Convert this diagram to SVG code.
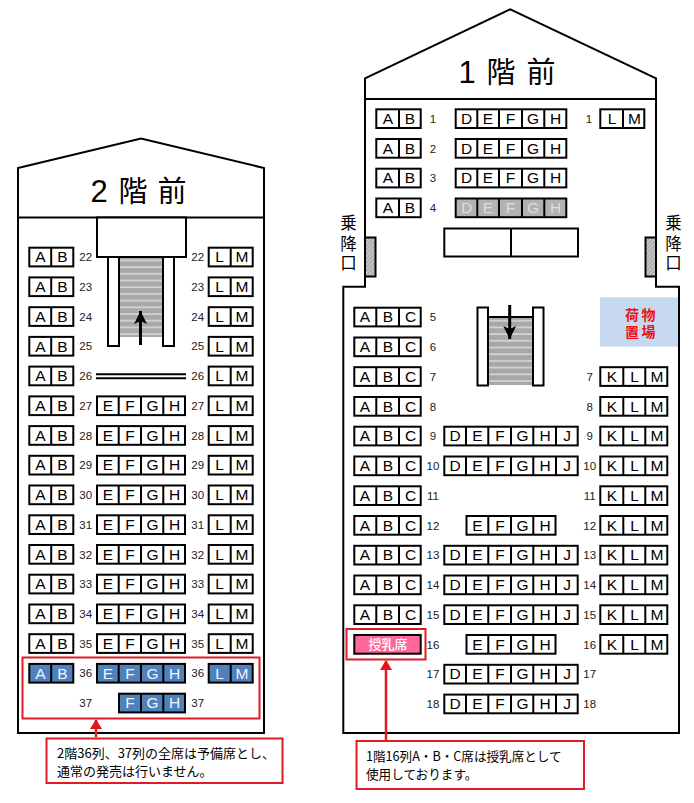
<svg xmlns="http://www.w3.org/2000/svg" width="694" height="803" viewBox="0 0 694 803">
<style>
.o{fill:none;stroke:#000;stroke-width:2}
.bw{fill:#fff;stroke:#000;stroke-width:2}
.s{stroke:#000;stroke-width:2}
.w{fill:#fff}.b{fill:#4f81bd}.g{fill:#b2b2b2}
text{font-family:"Liberation Sans","Noto Sans CJK JP",sans-serif;fill:#000}
.t,.tw{font-size:15.5px;text-anchor:middle}
.tw{fill:#f0f4fa}
.tg{fill:#ddd}
.n{font-size:11.5px;text-anchor:middle;fill:#222}
.h{font-size:29px;text-anchor:middle;font-family:"Noto Sans CJK JP","Liberation Sans",sans-serif}
.hd{font-size:31px;text-anchor:middle}
.d{font-size:16.5px;text-anchor:middle;font-family:"Noto Sans CJK JP",sans-serif}
.c{font-size:13px;font-family:"Noto Sans CJK JP",sans-serif}
.c1{font-size:12.6px;font-family:"Noto Sans CJK JP",sans-serif}
.bag{font-size:14px;font-weight:700;fill:#f01010;font-family:"Noto Sans CJK JP",sans-serif}
.nurse{font-size:13px;font-weight:500;text-anchor:middle;fill:#fff;font-family:"Noto Sans CJK JP",sans-serif}
.r{fill:none;stroke:#e01b24;stroke-width:2}
.a{stroke:#e01b24;stroke-width:2.5;fill:none}
</style>
<defs>
<pattern id="st" width="10" height="6.7" patternUnits="userSpaceOnUse"><rect width="10" height="6.7" fill="#d4d4d4"/><rect width="10" height="5" fill="#a8a8a8"/></pattern>
<pattern id="ha" width="3" height="3" patternUnits="userSpaceOnUse" patternTransform="rotate(45)"><rect width="3" height="3" fill="#c8c8c8"/><rect width="1.4" height="3" fill="#a8a8a8"/></pattern>
<marker id="ra" markerUnits="userSpaceOnUse" markerWidth="14" markerHeight="12" refX="9" refY="6" orient="auto"><path d="M0,0L10,6L0,12Z" fill="#e8141c"/></marker>
<marker id="ka" markerUnits="userSpaceOnUse" markerWidth="16" markerHeight="16" refX="13" refY="8" orient="auto"><path d="M0,1.5L13,8L0,14.5L3,8Z" fill="#000"/></marker>
<g id="ab2"><rect class="s" x="29.3" width="44" height="18.7"/><path class="s" d="M51.2,0V18.7"/></g>
<g id="efgh2"><rect class="s" x="97" width="88" height="18.7"/><path class="s" d="M118.7,0V18.7M141,0V18.7M163.3,0V18.7"/></g>
<g id="fgh2"><rect class="s" x="119" width="66" height="18.7"/><path class="s" d="M141,0V18.7M163.3,0V18.7"/></g>
<g id="lm2"><rect class="s" x="208.7" width="44" height="18.7"/><path class="s" d="M230.7,0V18.7"/></g>
<g id="ab1"><rect class="s" x="376.3" width="44.4" height="18.7"/><path class="s" d="M399,0V18.7"/></g>
<g id="defgh1"><rect class="s" x="455.7" width="110.6" height="18.7"/><path class="s" d="M477.3,0V18.7M499,0V18.7M522,0V18.7M544.3,0V18.7"/></g>
<g id="lm1"><rect class="s" x="600.3" width="44" height="18.7"/><path class="s" d="M623,0V18.7"/></g>
<g id="abc1"><rect class="s" x="354.3" width="66.4" height="18.7"/><path class="s" d="M376.3,0V18.7M399,0V18.7"/></g>
<g id="d6"><rect class="s" x="444.3" width="133.4" height="18.7"/><path class="s" d="M466,0V18.7M488.3,0V18.7M511,0V18.7M533.3,0V18.7M556,0V18.7"/></g>
<g id="e4"><rect class="s" x="466.5" width="89" height="18.7"/><path class="s" d="M488.3,0V18.7M511,0V18.7M533.3,0V18.7"/></g>
<g id="klm1"><rect class="s" x="600.3" width="67" height="18.7"/><path class="s" d="M623.3,0V18.7M645.3,0V18.7"/></g>
</defs>

<g id="floor2">
<path class="o" d="M18,168L141,138.5L264,168V733H18ZM18,217.5H264"/>
<text class="hd" x="99" y="202">2</text><text class="h" x="133" y="202">階</text><text class="h" x="172" y="202">前</text>
</g>
<g id="stairs2">
<rect x="119" y="257" width="44" height="80" fill="url(#st)"/>
<rect class="bw" x="108" y="257" width="11" height="89"/>
<rect class="bw" x="163" y="257" width="11" height="89"/>
<rect class="bw" x="97" y="217.5" width="89" height="39.5"/>
<path d="M140.5,345V311" stroke="#000" stroke-width="3" fill="none" marker-end="url(#ka)"/>
<path class="s" d="M96,374.3H186M96,378.3H186" fill="none"/>
</g>

<g id="r22" transform="translate(0,247.7)"><use href="#ab2" class="w"/><use href="#lm2" class="w"/><text class="t" x="40.5" y="14.7">A</text><text class="t" x="62.5" y="14.7">B</text><text class="n" x="85.7" y="13.5">22</text><text class="n" x="197.7" y="13.5">22</text><text class="t" x="219.5" y="14.7">L</text><text class="t" x="242" y="14.7">M</text></g>
<g id="r23" transform="translate(0,277.4)"><use href="#ab2" class="w"/><use href="#lm2" class="w"/><text class="t" x="40.5" y="14.7">A</text><text class="t" x="62.5" y="14.7">B</text><text class="n" x="85.7" y="13.5">23</text><text class="n" x="197.7" y="13.5">23</text><text class="t" x="219.5" y="14.7">L</text><text class="t" x="242" y="14.7">M</text></g>
<g id="r24" transform="translate(0,307.2)"><use href="#ab2" class="w"/><use href="#lm2" class="w"/><text class="t" x="40.5" y="14.7">A</text><text class="t" x="62.5" y="14.7">B</text><text class="n" x="85.7" y="13.5">24</text><text class="n" x="197.7" y="13.5">24</text><text class="t" x="219.5" y="14.7">L</text><text class="t" x="242" y="14.7">M</text></g>
<g id="r25" transform="translate(0,336.9)"><use href="#ab2" class="w"/><use href="#lm2" class="w"/><text class="t" x="40.5" y="14.7">A</text><text class="t" x="62.5" y="14.7">B</text><text class="n" x="85.7" y="13.5">25</text><text class="n" x="197.7" y="13.5">25</text><text class="t" x="219.5" y="14.7">L</text><text class="t" x="242" y="14.7">M</text></g>
<g id="r26" transform="translate(0,366.6)"><use href="#ab2" class="w"/><use href="#lm2" class="w"/><text class="t" x="40.5" y="14.7">A</text><text class="t" x="62.5" y="14.7">B</text><text class="n" x="85.7" y="13.5">26</text><text class="n" x="197.7" y="13.5">26</text><text class="t" x="219.5" y="14.7">L</text><text class="t" x="242" y="14.7">M</text></g>
<g id="r27" transform="translate(0,396.4)"><use href="#ab2" class="w"/><use href="#efgh2" class="w"/><use href="#lm2" class="w"/><text class="t" x="40.5" y="14.7">A</text><text class="t" x="62.5" y="14.7">B</text><text class="n" x="85.7" y="13.5">27</text><text class="t" x="108" y="14.7">E</text><text class="t" x="130" y="14.7">F</text><text class="t" x="152.5" y="14.7">G</text><text class="t" x="174.5" y="14.7">H</text><text class="n" x="197.7" y="13.5">27</text><text class="t" x="219.5" y="14.7">L</text><text class="t" x="242" y="14.7">M</text></g>
<g id="r28" transform="translate(0,426.1)"><use href="#ab2" class="w"/><use href="#efgh2" class="w"/><use href="#lm2" class="w"/><text class="t" x="40.5" y="14.7">A</text><text class="t" x="62.5" y="14.7">B</text><text class="n" x="85.7" y="13.5">28</text><text class="t" x="108" y="14.7">E</text><text class="t" x="130" y="14.7">F</text><text class="t" x="152.5" y="14.7">G</text><text class="t" x="174.5" y="14.7">H</text><text class="n" x="197.7" y="13.5">28</text><text class="t" x="219.5" y="14.7">L</text><text class="t" x="242" y="14.7">M</text></g>
<g id="r29" transform="translate(0,455.8)"><use href="#ab2" class="w"/><use href="#efgh2" class="w"/><use href="#lm2" class="w"/><text class="t" x="40.5" y="14.7">A</text><text class="t" x="62.5" y="14.7">B</text><text class="n" x="85.7" y="13.5">29</text><text class="t" x="108" y="14.7">E</text><text class="t" x="130" y="14.7">F</text><text class="t" x="152.5" y="14.7">G</text><text class="t" x="174.5" y="14.7">H</text><text class="n" x="197.7" y="13.5">29</text><text class="t" x="219.5" y="14.7">L</text><text class="t" x="242" y="14.7">M</text></g>
<g id="r30" transform="translate(0,485.5)"><use href="#ab2" class="w"/><use href="#efgh2" class="w"/><use href="#lm2" class="w"/><text class="t" x="40.5" y="14.7">A</text><text class="t" x="62.5" y="14.7">B</text><text class="n" x="85.7" y="13.5">30</text><text class="t" x="108" y="14.7">E</text><text class="t" x="130" y="14.7">F</text><text class="t" x="152.5" y="14.7">G</text><text class="t" x="174.5" y="14.7">H</text><text class="n" x="197.7" y="13.5">30</text><text class="t" x="219.5" y="14.7">L</text><text class="t" x="242" y="14.7">M</text></g>
<g id="r31" transform="translate(0,515.3)"><use href="#ab2" class="w"/><use href="#efgh2" class="w"/><use href="#lm2" class="w"/><text class="t" x="40.5" y="14.7">A</text><text class="t" x="62.5" y="14.7">B</text><text class="n" x="85.7" y="13.5">31</text><text class="t" x="108" y="14.7">E</text><text class="t" x="130" y="14.7">F</text><text class="t" x="152.5" y="14.7">G</text><text class="t" x="174.5" y="14.7">H</text><text class="n" x="197.7" y="13.5">31</text><text class="t" x="219.5" y="14.7">L</text><text class="t" x="242" y="14.7">M</text></g>
<g id="r32" transform="translate(0,545)"><use href="#ab2" class="w"/><use href="#efgh2" class="w"/><use href="#lm2" class="w"/><text class="t" x="40.5" y="14.7">A</text><text class="t" x="62.5" y="14.7">B</text><text class="n" x="85.7" y="13.5">32</text><text class="t" x="108" y="14.7">E</text><text class="t" x="130" y="14.7">F</text><text class="t" x="152.5" y="14.7">G</text><text class="t" x="174.5" y="14.7">H</text><text class="n" x="197.7" y="13.5">32</text><text class="t" x="219.5" y="14.7">L</text><text class="t" x="242" y="14.7">M</text></g>
<g id="r33" transform="translate(0,574.7)"><use href="#ab2" class="w"/><use href="#efgh2" class="w"/><use href="#lm2" class="w"/><text class="t" x="40.5" y="14.7">A</text><text class="t" x="62.5" y="14.7">B</text><text class="n" x="85.7" y="13.5">33</text><text class="t" x="108" y="14.7">E</text><text class="t" x="130" y="14.7">F</text><text class="t" x="152.5" y="14.7">G</text><text class="t" x="174.5" y="14.7">H</text><text class="n" x="197.7" y="13.5">33</text><text class="t" x="219.5" y="14.7">L</text><text class="t" x="242" y="14.7">M</text></g>
<g id="r34" transform="translate(0,604.5)"><use href="#ab2" class="w"/><use href="#efgh2" class="w"/><use href="#lm2" class="w"/><text class="t" x="40.5" y="14.7">A</text><text class="t" x="62.5" y="14.7">B</text><text class="n" x="85.7" y="13.5">34</text><text class="t" x="108" y="14.7">E</text><text class="t" x="130" y="14.7">F</text><text class="t" x="152.5" y="14.7">G</text><text class="t" x="174.5" y="14.7">H</text><text class="n" x="197.7" y="13.5">34</text><text class="t" x="219.5" y="14.7">L</text><text class="t" x="242" y="14.7">M</text></g>
<g id="r35" transform="translate(0,634.2)"><use href="#ab2" class="w"/><use href="#efgh2" class="w"/><use href="#lm2" class="w"/><text class="t" x="40.5" y="14.7">A</text><text class="t" x="62.5" y="14.7">B</text><text class="n" x="85.7" y="13.5">35</text><text class="t" x="108" y="14.7">E</text><text class="t" x="130" y="14.7">F</text><text class="t" x="152.5" y="14.7">G</text><text class="t" x="174.5" y="14.7">H</text><text class="n" x="197.7" y="13.5">35</text><text class="t" x="219.5" y="14.7">L</text><text class="t" x="242" y="14.7">M</text></g>
<g id="r36" transform="translate(0,663.9)"><use href="#ab2" class="b"/><use href="#efgh2" class="b"/><use href="#lm2" class="b"/><text class="tw" x="40.5" y="14.7">A</text><text class="tw" x="62.5" y="14.7">B</text><text class="n" x="85.7" y="13.5">36</text><text class="tw" x="108" y="14.7">E</text><text class="tw" x="130" y="14.7">F</text><text class="tw" x="152.5" y="14.7">G</text><text class="tw" x="174.5" y="14.7">H</text><text class="n" x="197.7" y="13.5">36</text><text class="tw" x="219.5" y="14.7">L</text><text class="tw" x="242" y="14.7">M</text></g>
<g id="r37" transform="translate(0,693.7)"><use href="#fgh2" class="b"/><text class="n" x="85.7" y="13.5">37</text><text class="tw" x="130" y="14.7">F</text><text class="tw" x="152.5" y="14.7">G</text><text class="tw" x="174.5" y="14.7">H</text><text class="n" x="197.7" y="13.5">37</text></g>
<g id="note2"><rect class="r" x="22.5" y="657.5" width="237" height="61"/><rect class="r" x="46.5" y="738.5" width="236" height="44.5"/><text class="c" x="57" y="757.5">2階36列、37列の全席は予備席とし、</text><text class="c" x="57" y="776">通常の発売は行いません。</text></g>

<g id="floor1">
<path class="o" d="M365,78.3L510.3,9.3L656,78.3V286.7H679V733H343.3V286.7H365ZM365,99H656"/>
<text class="hd" x="467" y="83">1</text><text class="h" x="501" y="83">階</text><text class="h" x="541" y="83">前</text>
</g>
<g id="door-left"><rect x="365" y="237.5" width="10.5" height="39" fill="url(#ha)" stroke="#000" stroke-width="2"/><text class="d"><tspan x="348.5" y="229">乗</tspan><tspan x="348.5" y="250">降</tspan><tspan x="348.5" y="269">口</tspan></text></g>
<g id="door-right"><rect x="645.5" y="237.5" width="10.5" height="39" fill="url(#ha)" stroke="#000" stroke-width="2"/><text class="d"><tspan x="673.5" y="229">乗</tspan><tspan x="673.5" y="250">降</tspan><tspan x="673.5" y="269">口</tspan></text></g>
<g id="front-block"><rect class="bw" x="444.3" y="228.5" width="133.7" height="28"/><path class="s" d="M511,228.5V256.5"/></g>
<g id="stairs1">
<rect x="488" y="317" width="45" height="68" fill="url(#st)"/><path class="s" d="M488,317H533" fill="none"/>
<rect class="bw" x="477.5" y="307.5" width="10.5" height="78"/>
<rect class="bw" x="533" y="307.5" width="10.5" height="78"/>
<path d="M509.7,305V339" stroke="#000" stroke-width="3" fill="none" marker-end="url(#ka)"/>
</g>
<g id="baggage"><rect x="600" y="297.3" width="78" height="49.4" fill="#c6d9f0"/><text class="bag"><tspan x="625" y="320">荷</tspan><tspan x="641.5" y="320">物</tspan><tspan x="625" y="336.5">置</tspan><tspan x="641.5" y="336.5">場</tspan></text></g>

<g id="s1" transform="translate(0,109.3)"><use href="#ab1" class="w"/><use href="#defgh1" class="w"/><use href="#lm1" class="w"/><text class="t" x="388" y="14.7">A</text><text class="t" x="410" y="14.7">B</text><text class="n" x="433" y="13.5">1</text><text class="t" x="466.5" y="14.7">D</text><text class="t" x="488" y="14.7">E</text><text class="t" x="510.5" y="14.7">F</text><text class="t" x="533" y="14.7">G</text><text class="t" x="555.5" y="14.7">H</text><text class="n" x="589" y="13.5">1</text><text class="t" x="612" y="14.7">L</text><text class="t" x="634.5" y="14.7">M</text></g>
<g id="s2" transform="translate(0,139)"><use href="#ab1" class="w"/><use href="#defgh1" class="w"/><text class="t" x="388" y="14.7">A</text><text class="t" x="410" y="14.7">B</text><text class="n" x="433" y="13.5">2</text><text class="t" x="466.5" y="14.7">D</text><text class="t" x="488" y="14.7">E</text><text class="t" x="510.5" y="14.7">F</text><text class="t" x="533" y="14.7">G</text><text class="t" x="555.5" y="14.7">H</text></g>
<g id="s3" transform="translate(0,168.7)"><use href="#ab1" class="w"/><use href="#defgh1" class="w"/><text class="t" x="388" y="14.7">A</text><text class="t" x="410" y="14.7">B</text><text class="n" x="433" y="13.5">3</text><text class="t" x="466.5" y="14.7">D</text><text class="t" x="488" y="14.7">E</text><text class="t" x="510.5" y="14.7">F</text><text class="t" x="533" y="14.7">G</text><text class="t" x="555.5" y="14.7">H</text></g>
<g id="s4" transform="translate(0,198.5)"><use href="#ab1" class="w"/><use href="#defgh1" class="g"/><text class="t" x="388" y="14.7">A</text><text class="t" x="410" y="14.7">B</text><text class="n" x="433" y="13.5">4</text><text class="t tg" x="466.5" y="14.7">D</text><text class="t tg" x="488" y="14.7">E</text><text class="t tg" x="510.5" y="14.7">F</text><text class="t tg" x="533" y="14.7">G</text><text class="t tg" x="555.5" y="14.7">H</text></g>
<g id="s5" transform="translate(0,307.7)"><use href="#abc1" class="w"/><text class="t" x="365" y="14.7">A</text><text class="t" x="388" y="14.7">B</text><text class="t" x="410.5" y="14.7">C</text><text class="n" x="433" y="13.5">5</text></g>
<g id="s6" transform="translate(0,337.5)"><use href="#abc1" class="w"/><text class="t" x="365" y="14.7">A</text><text class="t" x="388" y="14.7">B</text><text class="t" x="410.5" y="14.7">C</text><text class="n" x="433" y="13.5">6</text></g>
<g id="s7" transform="translate(0,367.2)"><use href="#abc1" class="w"/><use href="#klm1" class="w"/><text class="t" x="365" y="14.7">A</text><text class="t" x="388" y="14.7">B</text><text class="t" x="410.5" y="14.7">C</text><text class="n" x="433" y="13.5">7</text><text class="n" x="589.7" y="13.5">7</text><text class="t" x="612" y="14.7">K</text><text class="t" x="634.5" y="14.7">L</text><text class="t" x="657" y="14.7">M</text></g>
<g id="s8" transform="translate(0,397)"><use href="#abc1" class="w"/><use href="#klm1" class="w"/><text class="t" x="365" y="14.7">A</text><text class="t" x="388" y="14.7">B</text><text class="t" x="410.5" y="14.7">C</text><text class="n" x="433" y="13.5">8</text><text class="n" x="589.7" y="13.5">8</text><text class="t" x="612" y="14.7">K</text><text class="t" x="634.5" y="14.7">L</text><text class="t" x="657" y="14.7">M</text></g>
<g id="s9" transform="translate(0,426.7)"><use href="#abc1" class="w"/><use href="#d6" class="w"/><use href="#klm1" class="w"/><text class="t" x="365" y="14.7">A</text><text class="t" x="388" y="14.7">B</text><text class="t" x="410.5" y="14.7">C</text><text class="n" x="433" y="13.5">9</text><text class="t" x="455" y="14.7">D</text><text class="t" x="477.5" y="14.7">E</text><text class="t" x="500" y="14.7">F</text><text class="t" x="522.5" y="14.7">G</text><text class="t" x="545" y="14.7">H</text><text class="t" x="567" y="14.7">J</text><text class="n" x="589.7" y="13.5">9</text><text class="t" x="612" y="14.7">K</text><text class="t" x="634.5" y="14.7">L</text><text class="t" x="657" y="14.7">M</text></g>
<g id="s10" transform="translate(0,456.5)"><use href="#abc1" class="w"/><use href="#d6" class="w"/><use href="#klm1" class="w"/><text class="t" x="365" y="14.7">A</text><text class="t" x="388" y="14.7">B</text><text class="t" x="410.5" y="14.7">C</text><text class="n" x="433" y="13.5">10</text><text class="t" x="455" y="14.7">D</text><text class="t" x="477.5" y="14.7">E</text><text class="t" x="500" y="14.7">F</text><text class="t" x="522.5" y="14.7">G</text><text class="t" x="545" y="14.7">H</text><text class="t" x="567" y="14.7">J</text><text class="n" x="589.7" y="13.5">10</text><text class="t" x="612" y="14.7">K</text><text class="t" x="634.5" y="14.7">L</text><text class="t" x="657" y="14.7">M</text></g>
<g id="s11" transform="translate(0,486.3)"><use href="#abc1" class="w"/><use href="#klm1" class="w"/><text class="t" x="365" y="14.7">A</text><text class="t" x="388" y="14.7">B</text><text class="t" x="410.5" y="14.7">C</text><text class="n" x="433" y="13.5">11</text><text class="n" x="589.7" y="13.5">11</text><text class="t" x="612" y="14.7">K</text><text class="t" x="634.5" y="14.7">L</text><text class="t" x="657" y="14.7">M</text></g>
<g id="s12" transform="translate(0,516)"><use href="#abc1" class="w"/><use href="#e4" class="w"/><use href="#klm1" class="w"/><text class="t" x="365" y="14.7">A</text><text class="t" x="388" y="14.7">B</text><text class="t" x="410.5" y="14.7">C</text><text class="n" x="433" y="13.5">12</text><text class="t" x="477.5" y="14.7">E</text><text class="t" x="500" y="14.7">F</text><text class="t" x="522.5" y="14.7">G</text><text class="t" x="545" y="14.7">H</text><text class="n" x="589.7" y="13.5">12</text><text class="t" x="612" y="14.7">K</text><text class="t" x="634.5" y="14.7">L</text><text class="t" x="657" y="14.7">M</text></g>
<g id="s13" transform="translate(0,545.8)"><use href="#abc1" class="w"/><use href="#d6" class="w"/><use href="#klm1" class="w"/><text class="t" x="365" y="14.7">A</text><text class="t" x="388" y="14.7">B</text><text class="t" x="410.5" y="14.7">C</text><text class="n" x="433" y="13.5">13</text><text class="t" x="455" y="14.7">D</text><text class="t" x="477.5" y="14.7">E</text><text class="t" x="500" y="14.7">F</text><text class="t" x="522.5" y="14.7">G</text><text class="t" x="545" y="14.7">H</text><text class="t" x="567" y="14.7">J</text><text class="n" x="589.7" y="13.5">13</text><text class="t" x="612" y="14.7">K</text><text class="t" x="634.5" y="14.7">L</text><text class="t" x="657" y="14.7">M</text></g>
<g id="s14" transform="translate(0,575.5)"><use href="#abc1" class="w"/><use href="#d6" class="w"/><use href="#klm1" class="w"/><text class="t" x="365" y="14.7">A</text><text class="t" x="388" y="14.7">B</text><text class="t" x="410.5" y="14.7">C</text><text class="n" x="433" y="13.5">14</text><text class="t" x="455" y="14.7">D</text><text class="t" x="477.5" y="14.7">E</text><text class="t" x="500" y="14.7">F</text><text class="t" x="522.5" y="14.7">G</text><text class="t" x="545" y="14.7">H</text><text class="t" x="567" y="14.7">J</text><text class="n" x="589.7" y="13.5">14</text><text class="t" x="612" y="14.7">K</text><text class="t" x="634.5" y="14.7">L</text><text class="t" x="657" y="14.7">M</text></g>
<g id="s15" transform="translate(0,605.3)"><use href="#abc1" class="w"/><use href="#d6" class="w"/><use href="#klm1" class="w"/><text class="t" x="365" y="14.7">A</text><text class="t" x="388" y="14.7">B</text><text class="t" x="410.5" y="14.7">C</text><text class="n" x="433" y="13.5">15</text><text class="t" x="455" y="14.7">D</text><text class="t" x="477.5" y="14.7">E</text><text class="t" x="500" y="14.7">F</text><text class="t" x="522.5" y="14.7">G</text><text class="t" x="545" y="14.7">H</text><text class="t" x="567" y="14.7">J</text><text class="n" x="589.7" y="13.5">15</text><text class="t" x="612" y="14.7">K</text><text class="t" x="634.5" y="14.7">L</text><text class="t" x="657" y="14.7">M</text></g>
<g id="s16" transform="translate(0,635)"><rect x="354.3" width="66.4" height="18.7" fill="#ff6699" stroke="#000" stroke-width="2"/><use href="#e4" class="w"/><use href="#klm1" class="w"/><text class="nurse" x="388" y="14.2">授乳席</text><text class="n" x="433" y="13.5">16</text><text class="t" x="477.5" y="14.7">E</text><text class="t" x="500" y="14.7">F</text><text class="t" x="522.5" y="14.7">G</text><text class="t" x="545" y="14.7">H</text><text class="n" x="589.7" y="13.5">16</text><text class="t" x="612" y="14.7">K</text><text class="t" x="634.5" y="14.7">L</text><text class="t" x="657" y="14.7">M</text></g>
<g id="s17" transform="translate(0,664.8)"><use href="#d6" class="w"/><text class="n" x="433" y="13.5">17</text><text class="t" x="455" y="14.7">D</text><text class="t" x="477.5" y="14.7">E</text><text class="t" x="500" y="14.7">F</text><text class="t" x="522.5" y="14.7">G</text><text class="t" x="545" y="14.7">H</text><text class="t" x="567" y="14.7">J</text><text class="n" x="589.7" y="13.5">17</text></g>
<g id="s18" transform="translate(0,694.6)"><use href="#d6" class="w"/><text class="n" x="433" y="13.5">18</text><text class="t" x="455" y="14.7">D</text><text class="t" x="477.5" y="14.7">E</text><text class="t" x="500" y="14.7">F</text><text class="t" x="522.5" y="14.7">G</text><text class="t" x="545" y="14.7">H</text><text class="t" x="567" y="14.7">J</text><text class="n" x="589.7" y="13.5">18</text></g>
<g id="note1"><rect class="r" x="346.5" y="629" width="79" height="30.5"/><rect class="r" x="356.5" y="741" width="227.5" height="48"/><text class="c1" x="366" y="760.5">1階16列A・B・C席は授乳席として</text><text class="c1" x="366" y="779">使用しております。</text></g>

<g id="connectors">
<path class="a" d="M96,737V720" marker-end="url(#ra)"/>
<path class="a" d="M386,740V661" marker-end="url(#ra)"/>
</g>
</svg>
